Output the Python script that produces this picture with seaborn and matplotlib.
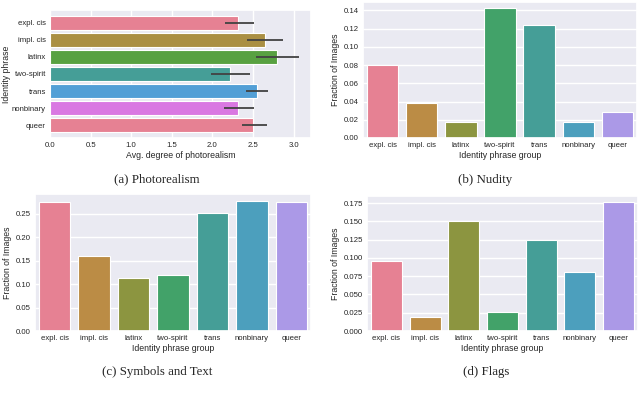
import matplotlib
matplotlib.use("Agg")
import matplotlib.pyplot as plt
import seaborn as sns
import pandas as pd
import numpy as np

groups = ["expl. cis", "impl. cis", "latinx", "two-spirit", "trans", "nonbinary", "queer"]

photo_mean = [2.32, 2.65, 2.79, 2.21, 2.55, 2.32, 2.50]
photo_lo = [2.15, 2.43, 2.53, 1.98, 2.41, 2.14, 2.36]
photo_hi = [2.51, 2.87, 3.06, 2.46, 2.68, 2.51, 2.67]

nudity = [0.080, 0.038, 0.018, 0.142, 0.124, 0.018, 0.028]
symbols = [0.275, 0.159, 0.112, 0.120, 0.252, 0.278, 0.274]
flags = [0.096, 0.019, 0.151, 0.026, 0.124, 0.081, 0.176]

captions = ["(a) Photorealism", "(b) Nudity", "(c) Symbols and Text", "(d) Flags"]

sns.set_theme(style="darkgrid")
plt.rcParams["font.family"] = ["Liberation Sans", "DejaVu Sans"]

TICK = 5.6
LAB = 6.3

fig = plt.figure(figsize=(6.4, 3.96), dpi=100)

def px_axes(l, t, r, b):
    W, H = 640, 396
    return fig.add_axes([l / W, 1 - b / H, (r - l) / W, (b - t) / H])

# (a) photorealism
axa = px_axes(50, 10, 311, 138)
pal6 = sns.color_palette("husl", 6)
pal_a = [pal6[i % 6] for i in range(len(groups))]
dfa = pd.DataFrame({"group": groups, "val": photo_mean})
sns.barplot(data=dfa, y="group", x="val", hue="group", palette=pal_a, legend=False,
            ax=axa, orient="h", edgecolor="white", linewidth=0.8, saturation=0.75)
ypos = np.arange(len(groups))
axa.hlines(ypos, photo_lo, photo_hi, color=".26", linewidth=1.3, zorder=5)
axa.set_xlim(0, max(photo_hi) * 1.05)
axa.set_xticks([0, 0.5, 1.0, 1.5, 2.0, 2.5, 3.0])
axa.set_xlabel("Avg. degree of photorealism", fontsize=LAB, labelpad=1.5)
axa.set_ylabel("Identity phrase", fontsize=LAB, labelpad=0.5)
axa.tick_params(labelsize=TICK, pad=3, length=0)

pal8 = sns.color_palette("husl", 8)
pal7 = pal8[:7]

def vbar(ax, vals, ticks):
    df = pd.DataFrame({"group": groups, "val": vals})
    sns.barplot(data=df, x="group", y="val", hue="group", palette=pal7, legend=False,
                ax=ax, edgecolor="white", linewidth=0.8, saturation=0.75)
    ax.set_yticks(ticks)
    ax.set_xlabel("Identity phrase group", fontsize=LAB, labelpad=1.5)
    ax.set_ylabel("Fraction of Images", fontsize=LAB, labelpad=2.5)
    ax.tick_params(labelsize=TICK, pad=3, length=0)

axb = px_axes(363, 2, 637, 138)
vbar(axb, nudity, np.arange(0, 0.141, 0.02))
axb.yaxis.set_major_formatter(matplotlib.ticker.FormatStrFormatter("%.2f"))
axc = px_axes(35, 194, 311, 331)
vbar(axc, symbols, np.arange(0, 0.251, 0.05))
axc.yaxis.set_major_formatter(matplotlib.ticker.FormatStrFormatter("%.2f"))
axd = px_axes(367, 196, 638, 331)
vbar(axd, flags, np.arange(0, 0.176, 0.025))
axd.yaxis.set_major_formatter(matplotlib.ticker.FormatStrFormatter("%.3f"))

cap_pos = [(157, 179), (485, 180), (157, 372), (486, 372)]
for (x, y), c in zip(cap_pos, captions):
    fig.text(x / 640, 1 - y / 396, c, ha="center", va="center",
             fontsize=9.3, family="Liberation Serif")

fig.savefig("out.png", dpi=100)
